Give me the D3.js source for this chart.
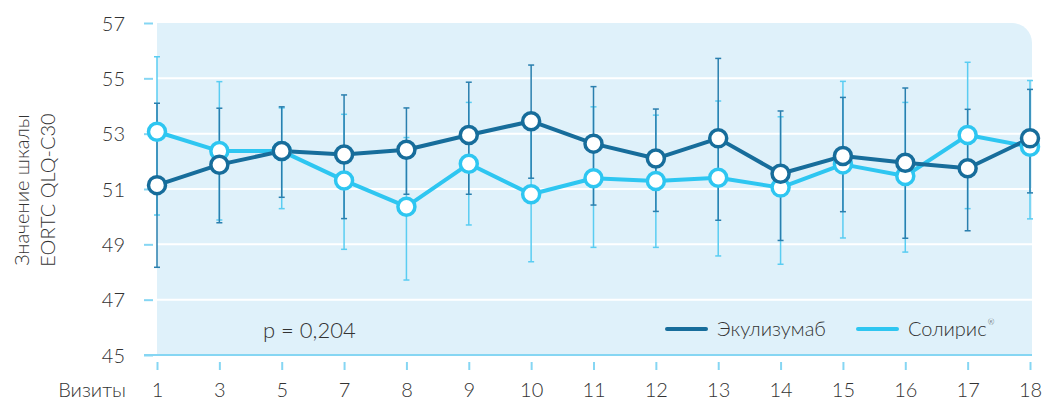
<!DOCTYPE html>
<html>
<head>
<meta charset="utf-8">
<script src="https://cdn.jsdelivr.net/npm/d3@7/dist/d3.min.js"></script>
<style>
  html, body { margin: 0; padding: 0; background: #fff; }
  svg { display: block; font-family: Lato, "Open Sans", sans-serif; font-weight: 300; }
</style>
</head>
<body>
<svg id="chart" width="1044" height="400"></svg>
<script>
// Visits on the x axis
const visits = ["1", "3", "5", "7", "8", "9", "10", "11", "12", "13", "14", "15", "16", "17", "18"];

// Eculizumab (biosimilar): mean score and CI bounds
const ekuMean = [51.14, 51.88, 52.37, 52.25, 52.42, 52.95, 53.45, 52.64, 52.10, 52.83, 51.55, 52.19, 51.95, 51.75, 52.83];
const ekuHigh = [54.10, 53.92, 53.97, 54.40, 53.93, 54.86, 55.48, 54.70, 53.89, 55.72, 53.82, 54.31, 54.65, 53.88, 54.60];
const ekuLow  = [48.17, 49.78, 50.70, 49.93, 50.81, 50.81, 51.39, 50.42, 50.19, 49.87, 49.14, 50.18, 49.22, 49.49, 50.86];

// Soliris: mean score and CI bounds
const solMean = [53.07, 52.37, 52.37, 51.31, 50.36, 51.91, 50.81, 51.39, 51.29, 51.41, 51.05, 51.89, 51.47, 52.95, 52.53];
const solHigh = [55.78, 54.88, 53.93, 53.70, 52.86, 54.13, 53.24, 53.97, 53.67, 54.18, 53.61, 54.89, 54.13, 55.58, 54.92];
const solLow  = [50.06, 49.88, 50.29, 48.82, 47.71, 49.70, 48.37, 48.89, 48.89, 48.58, 48.28, 49.23, 48.72, 50.29, 49.92];

const yTicks = [45, 47, 49, 51, 53, 55, 57];

const colDark = "#176d9b";
const colLight = "#2ec6f1";
const colDarkBar = "#2a7fae";
const colLightBar = "#5acdf2";
const tickBlue = "#86d6f3";
const textCol = "#333";

const svg = d3.select("#chart");

const x = d3.scalePoint().domain(visits).range([157, 1030]);
const y = d3.scaleLinear().domain([45, 57]).range([355, 23]);

const plotL = 157, plotR = 1032, plotT = y(57), plotB = y(45), rad = 20;

// Panel background with a rounded top-right corner
svg.append("path")
  .attr("d", `M${plotL},${plotT} H${plotR - rad} A${rad},${rad} 0 0 1 ${plotR},${plotT + rad} V${plotB} H${plotL} Z`)
  .attr("fill", "#dff1fa");

// White horizontal gridlines
svg.append("g").selectAll("line")
  .data(yTicks.filter(d => d > 45 && d < 57))
  .join("line")
  .attr("x1", plotL).attr("x2", plotR)
  .attr("y1", d => y(d)).attr("y2", d => y(d))
  .attr("stroke", "#fff").attr("stroke-width", 2);

// Y axis: short tick marks and labels
const yAxis = d3.axisLeft(y).tickValues(yTicks).tickSize(9).tickPadding(19).tickFormat(d3.format("d"));
const gy = svg.append("g").attr("transform", `translate(${plotL - 4},0)`).call(yAxis)
  .attr("font-family", null).attr("font-size", 20);
gy.select(".domain").remove();
gy.selectAll(".tick line").attr("stroke", tickBlue).attr("stroke-width", 2);
gy.selectAll(".tick text").attr("fill", textCol).attr("dy", "0.36em");

// Baseline
svg.append("line")
  .attr("x1", 144).attr("x2", plotR)
  .attr("y1", plotB).attr("y2", plotB)
  .attr("stroke", tickBlue).attr("stroke-width", 2);

// X axis ticks and labels
const xAxis = d3.axisBottom(x).tickSize(0).tickPadding(0);
const gx = svg.append("g").attr("transform", `translate(0,${plotB})`).call(xAxis)
  .attr("font-family", null).attr("font-size", 20);
gx.select(".domain").remove();
gx.selectAll(".tick line").remove();
gx.selectAll(".tick").append("line")
  .attr("y1", 7).attr("y2", 15)
  .attr("stroke", tickBlue).attr("stroke-width", 2);
gx.selectAll(".tick text")
  .attr("y", 42).attr("dy", 0)
  .attr("fill", textCol);

svg.append("text")
  .attr("x", 126).attr("y", 397)
  .attr("text-anchor", "end")
  .attr("fill", textCol).attr("font-size", 20)
  .text("Визиты");

// Y axis title
const yt = svg.append("text")
  .attr("transform", "translate(22,190) rotate(-90)")
  .attr("text-anchor", "middle")
  .attr("fill", textCol).attr("font-size", 20);
yt.append("tspan").attr("x", 0).attr("y", 7).text("Значение шкалы");
yt.append("tspan").attr("x", 0).attr("y", 33).text("EORTC QLQ-C30");

// Error bars
function errorBars(lo, hi, color) {
  const g = svg.append("g").attr("stroke", color).attr("stroke-width", 1.5);
  visits.forEach((v, i) => {
    const cx = x(v);
    g.append("line").attr("x1", cx).attr("x2", cx).attr("y1", y(lo[i])).attr("y2", y(hi[i]));
    g.append("line").attr("x1", cx - 3).attr("x2", cx + 3).attr("y1", y(lo[i])).attr("y2", y(lo[i]));
    g.append("line").attr("x1", cx - 3).attr("x2", cx + 3).attr("y1", y(hi[i])).attr("y2", y(hi[i]));
  });
}
errorBars(solLow, solHigh, colLightBar);
errorBars(ekuLow, ekuHigh, colDarkBar);

// Series lines and markers
const line = d3.line().x((d, i) => x(visits[i])).y(d => y(d));
function series(vals, color) {
  svg.append("path").datum(vals)
    .attr("d", line).attr("fill", "none")
    .attr("stroke", color).attr("stroke-width", 4).attr("stroke-linejoin", "round");
}
function markers(vals, color) {
  svg.append("g").selectAll("circle").data(vals).join("circle")
    .attr("cx", (d, i) => x(visits[i])).attr("cy", d => y(d))
    .attr("r", 8.5).attr("fill", "#fff")
    .attr("stroke", color).attr("stroke-width", 3.5);
}
series(solMean, colLight);
series(ekuMean, colDark);
markers(solMean, colLight);
markers(ekuMean, colDark);

// p-value
svg.append("text")
  .attr("x", 263).attr("y", 338)
  .attr("fill", textCol).attr("font-size", 22)
  .text("p = 0,204");

// Legend
const legend = [
  { name: "Экулизумаб", color: colDark, x: 667 },
  { name: "Солирис", color: colLight, x: 858, mark: "®" }
];
legend.forEach(d => {
  svg.append("line")
    .attr("x1", d.x).attr("x2", d.x + 39)
    .attr("y1", 329).attr("y2", 329)
    .attr("stroke", d.color).attr("stroke-width", 4).attr("stroke-linecap", "round");
  const t = svg.append("text")
    .attr("x", d.x + 50).attr("y", 336)
    .attr("fill", textCol).attr("font-size", 20)
    .text(d.name);
  if (d.mark) {
    t.append("tspan").attr("font-size", 8).attr("dy", -11).attr("dx", 1).text(d.mark);
  }
});
</script>
</body>
</html>
